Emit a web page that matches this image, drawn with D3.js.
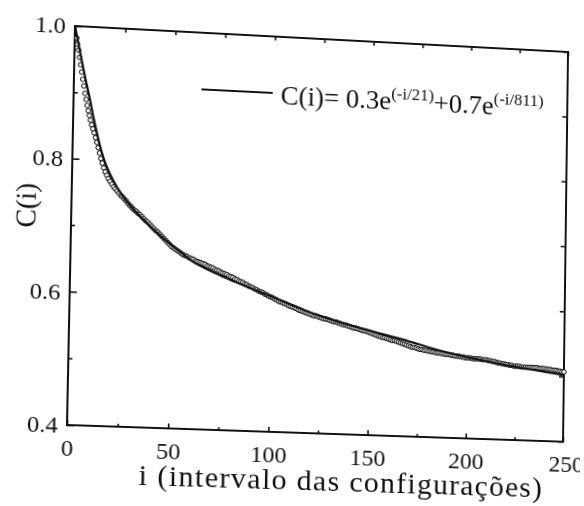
<!DOCTYPE html>
<html lang="pt">
<head>
<meta charset="UTF-8">
<title>C(i)</title>
<script src="https://d3js.org/d3.v7.min.js"></script>
<style>
  html, body { margin: 0; padding: 0; background: #fff; overflow: hidden; }
  #chart { position: absolute; left: 0; top: 0; width: 584px; height: 506px; }
  #chart svg { display: block; transform-origin: 0 0; }
  text { font-family: "Liberation Serif", "Times New Roman", serif; fill: #111; }
</style>
</head>
<body>
<div id="chart"></div>
<script>
// values
var xMajor = [0, 50, 100, 150, 200, 250];
var xMinor = [25, 75, 125, 175, 225];
var yMajor = [0.4, 0.6, 0.8, 1.0];
var yMinor = [0.5, 0.7, 0.9];

// separate circles near the start (i, C)
var headI = [1.0, 1.4, 2.0, 2.6, 3.2, 3.8, 4.4, 5.0, 5.6, 6.2, 6.8, 7.4, 8.0, 8.6, 9.2, 9.9,
             10.6, 11.3, 12.0, 12.7, 13.4, 14.1, 14.8, 15.6, 16.4, 17.2, 18.0, 18.9, 19.8,
             20.7, 21.6, 22.5, 23.4, 24.3];
var headC = [0.982, 0.973, 0.964, 0.953, 0.942, 0.931, 0.920, 0.910, 0.899, 0.890, 0.881,
             0.873, 0.866, 0.859, 0.852, 0.846, 0.840, 0.833, 0.826, 0.818, 0.810, 0.802,
             0.795, 0.788, 0.782, 0.777, 0.772, 0.768, 0.764, 0.760, 0.757, 0.754, 0.751, 0.748];

// dense band of circles, one per i from tailStart to 250
var tailStart = 25;
var tailC = [
  .746,.743,.740,.736,.733,.730,
  .727,.725,.722,.720,.717, .714,.711,.709,.706,.703,
  .700,.697,.695,.692,.689, .686,.683,.680,.677,.674,
  .672,.670,.668,.666,.664, .662,.661,.660,.658,.657,
  .656,.654,.653,.652,.651, .650,.649,.647,.646,.645,
  .644,.642,.641,.640,.638, .637,.636,.635,.633,.632,
  .631,.629,.628,.626,.625, .624,.622,.621,.619,.618,
  .617,.615,.614,.612,.611, .610,.608,.607,.605,.604,
  .603,.601,.600,.598,.597, .596,.595,.594,.592,.591,
  .590,.589,.588,.586,.585, .584,.583,.582,.581,.580,
  .579,.578,.578,.577,.576, .575,.574,.574,.573,.572,
  .571,.570,.570,.569,.568, .567,.566,.566,.565,.564,
  .563,.562,.562,.561,.560, .559,.558,.558,.557,.556,
  .555,.554,.553,.552,.551, .550,.549,.549,.548,.547,
  .546,.545,.545,.544,.543, .542,.541,.540,.539,.538,
  .537,.536,.536,.535,.534, .533,.533,.532,.532,.531,
  .531,.530,.530,.529,.529, .529,.528,.528,.527,.527,
  .527,.526,.526,.525,.525, .525,.524,.524,.523,.523,
  .523,.523,.522,.522,.522, .522,.522,.521,.521,.521,
  .520,.520,.519,.519,.518, .517,.517,.516,.516,.515,
  .515,.514,.514,.513,.513, .513,.513,.512,.512,.512,
  .512,.512,.512,.512,.512, .512,.511,.511,.511,.511,
  .510,.510,.510,.509,.509, .509,.508,.508,.507,.507
];

// fitted curve as drawn in the figure
var fitI = [0, 2, 4, 6, 8, 10, 12, 14, 16, 18, 20, 25, 30, 35, 40, 45, 50, 55, 60, 65, 70, 75,
            80, 90, 100, 110, 120, 130, 140, 150, 160, 170, 180, 190, 200, 210, 220, 230, 240, 250];
var fitC = [1.000, 0.972, 0.944, 0.917, 0.892, 0.864, 0.839, 0.816, 0.798, 0.784, 0.772, 0.748,
            0.730, 0.715, 0.701, 0.688, 0.676, 0.665, 0.654, 0.646, 0.639, 0.633, 0.627, 0.616,
            0.605, 0.594, 0.583, 0.574, 0.566, 0.559, 0.552, 0.545, 0.537, 0.530, 0.524, 0.519,
            0.514, 0.510, 0.506, 0.502];

(function() {
  var W = 584, H = 506;
  var pLeft = 70, pRight = 566, pTop = 28, pBottom = 432;
  var serif = '"Liberation Serif", "Times New Roman", serif';

  var svg = d3.select("#chart").append("svg")
      .attr("width", W)
      .attr("height", H)
      .attr("font-family", serif);

  var x = d3.scaleLinear().domain([0, 250]).range([pLeft, pRight]);
  var y = d3.scaleLinear().domain([0.4, 1.0]).range([pBottom, pTop]);

  // ticks (all pointing inward)
  function ticks(g, axis) {
    g.call(axis);
    g.attr("font-family", serif);
    g.select(".domain").remove();
    g.selectAll(".tick line").attr("stroke", "#111").attr("stroke-width", 1.6);
  }

  var gb = svg.append("g").attr("transform", "translate(0," + pBottom + ")");
  ticks(gb, d3.axisBottom(x).tickValues(xMajor).tickSize(-5).tickPadding(14));
  gb.selectAll("text").attr("font-size", 24).attr("fill", "#111");
  gb.selectAll(".tick").filter(function(d) { return d === 250; }).select("text").attr("dx", 3);
  ticks(svg.append("g").attr("transform", "translate(0," + pBottom + ")"),
        d3.axisBottom(x).tickValues(xMinor).tickSize(-3).tickFormat(""));

  ticks(svg.append("g").attr("transform", "translate(0," + pTop + ")"),
        d3.axisTop(x).tickValues(xMajor.concat(xMinor)).tickSize(-4).tickFormat(""));

  var gl = svg.append("g").attr("transform", "translate(" + pLeft + ",0)");
  ticks(gl, d3.axisLeft(y).tickValues(yMajor).tickSize(-7).tickPadding(9).tickFormat(d3.format(".1f")));
  gl.selectAll("text").attr("font-size", 24).attr("fill", "#111");
  ticks(svg.append("g").attr("transform", "translate(" + pLeft + ",0)"),
        d3.axisLeft(y).tickValues(yMinor).tickSize(-4).tickFormat(""));

  ticks(svg.append("g").attr("transform", "translate(" + pRight + ",0)"),
        d3.axisRight(y).tickValues(yMajor.concat(yMinor)).tickSize(-5).tickFormat(""));

  // frame
  svg.append("rect")
      .attr("x", pLeft).attr("y", pTop)
      .attr("width", pRight - pLeft).attr("height", pBottom - pTop)
      .attr("fill", "none").attr("stroke", "#111").attr("stroke-width", 2);

  // data circles
  var points = headI.map(function(d, k) { return { i: d, c: headC[k] }; });
  tailC.forEach(function(c, k) { points.push({ i: tailStart + k, c: c }); });

  svg.append("g").selectAll("circle")
      .data(points)
    .enter().append("circle")
      .attr("cx", function(d) { return x(d.i); })
      .attr("cy", function(d) { return y(d.c); })
      .attr("r", 2.3)
      .attr("fill", "#fff")
      .attr("stroke", "#000")
      .attr("stroke-width", 1);

  // fitted curve
  var line = d3.line()
      .x(function(d, k) { return x(fitI[k]); })
      .y(function(d) { return y(d); })
      .curve(d3.curveMonotoneX);

  svg.append("path")
      .attr("d", line(fitC))
      .attr("fill", "none")
      .attr("stroke", "#111")
      .attr("stroke-width", 2.2);

  // legend
  svg.append("line")
      .attr("x1", 196).attr("x2", 267).attr("y1", 86).attr("y2", 86)
      .attr("stroke", "#111").attr("stroke-width", 2);
  var lt = svg.append("text").attr("x", 275).attr("y", 97).attr("font-size", 27);
  lt.append("tspan").text("C(i)= 0.3e");
  lt.append("tspan").attr("dy", -11).attr("font-size", 17).text("(-i/21)");
  lt.append("tspan").attr("dy", 11).text("+0.7e");
  lt.append("tspan").attr("dy", -11).attr("font-size", 17).text("(-i/811)");

  // axis titles
  svg.append("text")
      .attr("x", 141).attr("y", 490)
      .attr("font-size", 30)
      .attr("textLength", 404).attr("lengthAdjust", "spacing")
      .text("i (intervalo das configurações)");

  svg.append("text")
      .attr("transform", "translate(35,212) rotate(-90)")
      .attr("text-anchor", "middle")
      .attr("font-size", 28)
      .text("C(i)");

  // the scan is slightly skewed: map the plot frame onto its corners in the picture
  var src = [[pLeft, pTop], [pRight, pTop], [pLeft, pBottom], [pRight, pBottom]];
  var dst = [[75, 26], [568, 52], [67, 425], [563, 441.7]];

  function solve(A, b) {
    var n = b.length;
    for (var c = 0; c < n; c++) {
      var p = c;
      for (var r = c + 1; r < n; r++) if (Math.abs(A[r][c]) > Math.abs(A[p][c])) p = r;
      var t = A[c]; A[c] = A[p]; A[p] = t;
      var tb = b[c]; b[c] = b[p]; b[p] = tb;
      for (var r2 = c + 1; r2 < n; r2++) {
        var f = A[r2][c] / A[c][c];
        for (var k = c; k < n; k++) A[r2][k] -= f * A[c][k];
        b[r2] -= f * b[c];
      }
    }
    var xs = new Array(n);
    for (var i = n - 1; i >= 0; i--) {
      var s = b[i];
      for (var j = i + 1; j < n; j++) s -= A[i][j] * xs[j];
      xs[i] = s / A[i][i];
    }
    return xs;
  }

  var A = [], b = [];
  src.forEach(function(s, k) {
    var X = dst[k][0], Y = dst[k][1];
    A.push([s[0], s[1], 1, 0, 0, 0, -s[0] * X, -s[1] * X]); b.push(X);
    A.push([0, 0, 0, s[0], s[1], 1, -s[0] * Y, -s[1] * Y]); b.push(Y);
  });
  var h = solve(A, b);
  var m = [h[0], h[3], 0, h[6], h[1], h[4], 0, h[7], 0, 0, 1, 0, h[2], h[5], 0, 1];
  svg.style("transform", "matrix3d(" + m.join(",") + ")");
})();
</script>
</body>
</html>
